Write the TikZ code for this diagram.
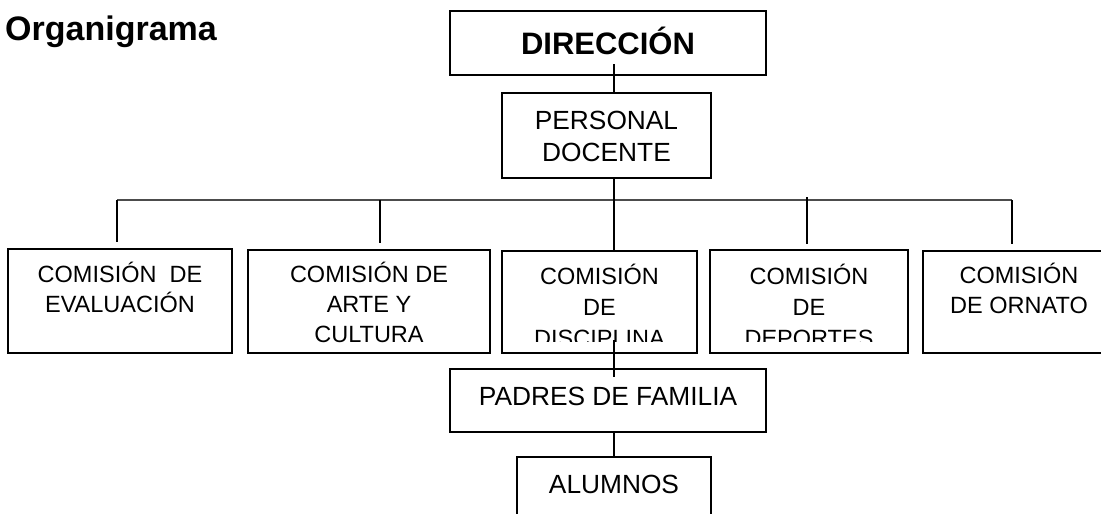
\documentclass[tikz,border=0pt]{standalone}
\usepackage{fontspec}
\setmainfont{Liberation Sans}
\newcommand\mylines[1]{\begin{tabular}[t]{@{}c@{}}#1\end{tabular}}
\begin{document}
\begin{tikzpicture}[x=1pt,y=-1pt,
  boxst/.style={draw, line width=1.7pt, inner sep=0pt},
  conn/.style={line width=1.6pt},
  busline/.style={line width=1.3pt, black!70},
  comtxt/.style={inner sep=0pt, anchor=base, font=\fontsize{23.5}{30}\selectfont},
  comtxtb/.style={inner sep=0pt, anchor=base, font=\fontsize{23.5}{31}\selectfont},
  bigtxt/.style={inner sep=0pt, anchor=base, font=\fontsize{26.3}{32}\selectfont},
  ttltxt/.style={inner sep=0pt, font=\bfseries\fontsize{31}{36}\selectfont},
  headtxt/.style={inner sep=0pt, font=\bfseries\fontsize{34}{40}\selectfont}
]
\useasboundingbox (0,0) rectangle (1101,514);
\fill[white] (0,0) rectangle (1101,514);
\clip (0,0) rectangle (1101,514);

% title
\node[headtxt, anchor=base west] (title) at (5,40) {Organigrama};

% boxes
\node[boxst, minimum width=316pt, minimum height=64pt] (dir) at (608,43) {};
\node[ttltxt, anchor=base] (dirt) at (608,54) {DIRECCIÓN};

\node[boxst, minimum width=209pt, minimum height=85pt] (per) at (606.5,135.5) {};
\node[bigtxt] (pert) at (606.5,129) {\mylines{PERSONAL\\DOCENTE}};

\node[boxst, minimum width=224pt, minimum height=104pt] (c1) at (120,301) {};
\node[comtxt] (c1t) at (120,282) {\mylines{COMISIÓN\ \ DE\\EVALUACIÓN}};

\node[boxst, minimum width=242pt, minimum height=103pt] (c2) at (369,301.5) {};
\node[comtxt] (c2t) at (369,282) {\mylines{COMISIÓN DE\\ARTE Y\\CULTURA}};

\node[boxst, minimum width=195pt, minimum height=102pt] (c3) at (599.5,302) {};
\begin{scope}
\clip (503,252) rectangle (696,341);
\node[comtxtb] (c3t) at (599.5,284) {\mylines{COMISIÓN\\DE\\DISCIPLINA}};
\end{scope}

\node[boxst, minimum width=198pt, minimum height=103pt] (c4) at (809,301.5) {};
\begin{scope}
\clip (711,252) rectangle (907,341);
\node[comtxtb] (c4t) at (809,284) {\mylines{COMISIÓN\\DE\\DEPORTES}};
\end{scope}

\node[boxst, minimum width=192pt, minimum height=102pt] (c5) at (1019,302) {};
\node[comtxt] (c5t) at (1019,283) {\mylines{COMISIÓN\\DE ORNATO}};

\node[boxst, minimum width=316pt, minimum height=63pt] (pad) at (608,400.5) {};
\node[bigtxt] (padt) at (608,405) {PADRES DE FAMILIA};

\node[boxst, minimum width=194pt, minimum height=80pt] (alu) at (614,497) {};
\node[bigtxt] (alut) at (614,493) {ALUMNOS};

% connector points
\coordinate (dirin) at (614,64);
\coordinate (bus1) at (117,200);
\coordinate (bus2) at (380,200);
\coordinate (bus3) at (614,200);
\coordinate (bus4) at (807,197);
\coordinate (bus5) at (1012,200);
\coordinate (d1) at (117,242);
\coordinate (d2) at (380,243);
\coordinate (d4) at (807,244);
\coordinate (d5) at (1012,244);
\coordinate (c3in) at (614,340);
\coordinate (padin) at (614,377);

% connectors
\draw[conn] (dirin) -- (dirin |- per.north);
\draw[busline] (bus1) -- (bus5);
\draw[conn] (per.south -| bus3) -- (c3.north -| bus3);
\draw[conn] (bus1) -- (d1);
\draw[conn] (bus2) -- (d2);
\draw[conn] (bus4) -- (d4);
\draw[conn] (bus5) -- (d5);
\draw[conn] (c3in) -- (padin);
\draw[conn] (pad.south -| alu.north) -- (alu.north);
\end{tikzpicture}
\end{document}
